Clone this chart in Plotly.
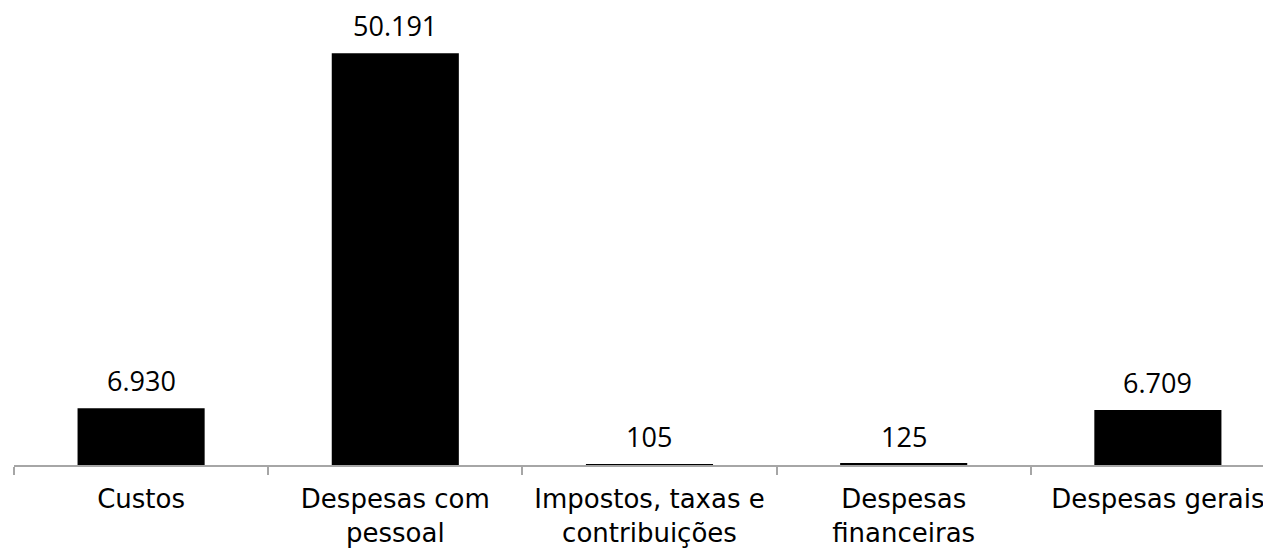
import plotly.graph_objects as go

categories = ["Custos", "Despesas com<br>pessoal", "Impostos, taxas e<br>contribuições",
              "Despesas<br>financeiras", "Despesas gerais"]
values = [6930, 50191, 105, 125, 6709]
labels = ["6.930", "50.191", "105", "125", "6.709"]

TICK_FONT = "DejaVu Sans"
NUM_FONT = "Open Sans"

fig = go.Figure(go.Bar(
    x=categories, y=values,
    marker=dict(color="#000000", line=dict(width=0)),
    cliponaxis=False,
))
for c, v, t in zip(categories, values, labels):
    fig.add_annotation(x=c, y=v, text=t, showarrow=False, yanchor="bottom", yshift=7,
                       font=dict(size=27, color="#000000", family=NUM_FONT))
fig.update_layout(
    width=1271, height=549,
    margin=dict(l=6, r=8, t=0, b=92, autoexpand=False),
    plot_bgcolor="white", paper_bgcolor="white",
    bargap=0.5, showlegend=False,
    font=dict(family=TICK_FONT, size=26, color="#000000"),
)
fig.update_xaxes(range=[-0.5, 4.445], showline=True, linecolor="#a6a6a6", linewidth=1.5,
                 ticks="outside", tickson="boundaries", ticklen=8, tickcolor="#a6a6a6",
                 tickwidth=1.5, showgrid=False, automargin=False, ticklabelstandoff=10,
                 tickfont=dict(size=26, family=TICK_FONT, color="#000000"))
fig.update_yaxes(range=[0, 55712], visible=False, showgrid=False, automargin=False)
fig.write_html("out.html")
